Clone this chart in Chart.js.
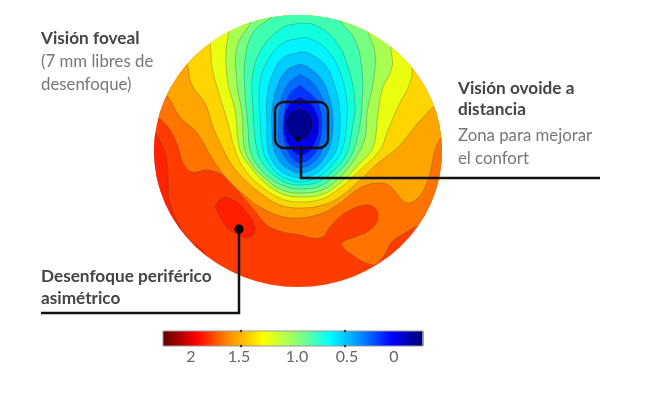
<!DOCTYPE html>
<html>
<head>
<meta charset="utf-8">
<script src="https://cdn.jsdelivr.net/npm/chart.js@4"></script>
<style>
  html, body { margin: 0; padding: 0; background: #fff; }
  canvas { display: block; }
</style>
</head>
<body>
<canvas id="mapa" width="650" height="400"></canvas>
<script>
// contour outlines, outermost first
const redBand = [[150,125],[155,132],[165,153],[168,177],[170,203],[187,237],[205,253],[195,262],[150,220],[145,150]];
const redPatch = [[215,207],[222,198],[233,200],[245,210],[255,228],[250,237],[238,235],[225,225]];
const level2 = [[150,112],[159,118],[170,130],[178,147],[183,163],[192,172],[207,170],[222,175],[237,190],[250,205],[267,225],[283,232],[300,235],[312,238],[323,237],[330,227],[345,213],[365,205],[375,208],[378,218],[370,230],[355,237],[342,243],[348,252],[373,265],[383,257],[392,242],[405,233],[418,226],[430,225],[460,200],[460,0],[150,0]];
const level3 = [[155,85],[168,97],[180,117],[197,133],[213,160],[228,180],[243,194],[260,207],[280,216],[300,218],[323,213],[340,203],[362,187],[382,183],[392,188],[402,200],[410,203],[422,193],[430,173],[435,150],[443,135],[460,120],[460,0],[150,0]];
const level4 = [[175,55],[187,65],[190,80],[195,90],[205,103],[213,127],[222,147],[232,165],[243,178],[260,193],[280,205],[300,208],[323,205],[340,197],[360,180],[378,163],[395,150],[402,143],[418,123],[435,105],[450,90],[460,0],[165,0]];
const level5 = [[205,30],[210,43],[212,67],[220,97],[228,123],[235,150],[245,170],[262,187],[282,199],[300,202],[322,199],[340,188],[358,172],[380,150],[388,130],[398,107],[410,83],[412,67],[408,50],[420,20],[400,0],[200,0]];
const level6 = [[229,32],[226,53],[228,83],[235,110],[240,150],[250,166],[262,180],[280,193],[300,197],[323,194],[340,183],[360,163],[373,147],[378,113],[382,90],[392,67],[391,45],[395,30],[395,0],[225,0]];
const level7 = [[250,24],[237,47],[237,83],[242,113],[245,150],[254,167],[266,179],[282,190],[300,193],[322,190],[338,179],[354,160],[365,138],[367,113],[373,83],[375,53],[368,32],[360,0],[250,0]];
const level8 = [[272,17],[253,33],[245,60],[245,93],[248,127],[250,150],[258,166],[270,178],[284,186],[300,189],[320,186],[336,174],[350,158],[358,135],[362,103],[362,70],[355,40],[340,21],[330,0],[272,0]];
const level9 = [[300,23],[282,28],[263,47],[253,73],[253,110],[257,150],[264,165],[275,176],[287,183],[300,185],[318,182],[333,171],[346,155],[352,130],[355,103],[348,67],[335,40],[315,25]];
const level10 = [[300,38],[283,43],[268,60],[260,83],[260,117],[263,150],[270,165],[279,175],[290,180],[300,182],[316,178],[331,166],[342,150],[347,120],[346,95],[338,67],[325,48],[308,38]];
const level11 = [[300,52],[283,58],[273,73],[267,97],[267,127],[268,150],[275,165],[284,173],[300,178],[315,174],[328,162],[337,148],[340,115],[335,87],[325,65],[308,53]];
const level12 = [[300,64],[287,70],[277,87],[272,110],[272,133],[274,150],[281,163],[290,170],[300,173],[313,169],[324,158],[331,142],[333,120],[330,100],[322,80],[308,67]];
const level13 = [[300,74],[287,85],[280,105],[278,128],[279,145],[286,159],[294,166],[300,168],[311,164],[321,153],[327,130],[326,112],[322,97],[312,82]];
const level14 = [[300,85],[289,95],[284,115],[283,135],[288,152],[295,161],[300,163],[310,159],[318,148],[322,125],[320,108],[315,98]];
const level15 = [[300,97],[289,105],[284,124],[288,144],[300,155],[312,148],[319,125],[312,105]];
const level16 = [[300,108],[290,113],[286,124],[290,135],[300,140],[309,135],[313,124],[309,113]];

const contours = [redBand, level2, level3, level4, level5, level6, level7, level8, level9, level10, level11, level12, level13, level14, level15, level16, redPatch];
const contourColors = ['#ff2200', '#ff7300', '#ffa500', '#ffd500', '#eaff10', '#a8ff50', '#78ff80', '#3fffb0', '#10ffdc', '#00f4ff', '#00ccff', '#0098ff', '#006cff', '#0034ff', '#0000e8', '#000090', '#ff1e00'];

const lensCentre = [298, 151];
const lensRadius = [144, 136];
const lensColor = '#ff3c00';

const colorbarTickLabels = ['2', '1.5', '1.0', '0.5', '0'];
const colorbarTickX = [191, 239, 297, 347, 394];
const colorbarBox = [[163,331],[423,331],[423,346],[163,346],[163,331]];
const colorbarStops = [0, 0.13, 0.24, 0.385, 0.53, 0.64, 0.77, 0.88, 1];
const colorbarColors = ['#600000', '#ff0000', '#ff8000', '#ffff00', '#80ff80', '#00ffff', '#0080ff', '#0000ff', '#000070'];
const colorbarMarks = [[241,331],[241,346],[345,331],[345,346]];

const leaderOvoid = [[301,148],[301,178],[600,178]];
const leaderPeriph = [[239,229],[239,313],[41,313]];
const dots = [[298,139],[239,229]];
const dotSizes = [2.5, 4.5];
const focusBox = [[275,102],[328,148]];

const boldColor = '#444', lightColor = '#777';
const captions = [
  ['Visión foveal', 41, 38, true],
  ['(7 mm libres de', 41, 62, false],
  ['desenfoque)', 41, 85, false],
  ['Visión ovoide a', 458, 88, true],
  ['distancia', 458, 109, true],
  ['Zona para mejorar', 458, 136, false],
  ['el confort', 458, 159, false],
  ['Desenfoque periférico', 41, 276, true],
  ['asimétrico', 41, 298, true]
];

const toPoints = (list) => list.map((p) => ({ x: p[0], y: p[1] }));

const datasets = [];
contours.forEach((c, i) => {
  datasets.push({
    data: toPoints(c.concat([c[0]])),
    lensFill: contourColors[i],
    borderColor: 'rgba(70,70,70,0.4)',
    borderWidth: 0.8,
    tension: 0.4,
    pointRadius: 0,
    showLine: true,
    clip: false
  });
});
datasets.push({ data: toPoints(colorbarBox), colorbar: true, borderColor: '#999', borderWidth: 1, pointRadius: 0, showLine: true, clip: false });
datasets.push({ data: toPoints(colorbarMarks), pointRadius: 1.2, backgroundColor: '#333', borderWidth: 0, showLine: false, clip: false });
datasets.push({ data: toPoints(leaderOvoid), borderColor: '#111', borderWidth: 2.5, pointRadius: 0, showLine: true, tension: 0, clip: false });
datasets.push({ data: toPoints(leaderPeriph), borderColor: '#111', borderWidth: 2.5, pointRadius: 0, showLine: true, tension: 0, clip: false });
datasets.push({ data: toPoints(dots), pointRadius: dotSizes, backgroundColor: '#000', borderWidth: 0, showLine: false, clip: false });
datasets.forEach((d, i) => { d.order = 100 - i; });

const lensPlugin = {
  id: 'lens',
  beforeDatasetsDraw(chart) {
    const ctx = chart.ctx, xs = chart.scales.x, ys = chart.scales.y;
    ctx.save();
    ctx.beginPath();
    ctx.ellipse(xs.getPixelForValue(lensCentre[0]), ys.getPixelForValue(lensCentre[1]), lensRadius[0], lensRadius[1], 0, 0, Math.PI * 2);
    ctx.fillStyle = lensColor;
    ctx.fill();
    ctx.restore();
  },
  beforeDatasetDraw(chart, args) {
    const ds = chart.data.datasets[args.index];
    const ctx = chart.ctx, xs = chart.scales.x, ys = chart.scales.y;
    if (ds.lensFill) {
      ctx.save();
      ctx.beginPath();
      ctx.ellipse(xs.getPixelForValue(lensCentre[0]), ys.getPixelForValue(lensCentre[1]), lensRadius[0], lensRadius[1], 0, 0, Math.PI * 2);
      ctx.clip();
      ctx.beginPath();
      args.meta.dataset.path(ctx);
      ctx.closePath();
      ctx.fillStyle = ds.lensFill;
      ctx.fill();
    }
    if (ds.colorbar) {
      const x0 = xs.getPixelForValue(colorbarBox[0][0]), x1 = xs.getPixelForValue(colorbarBox[1][0]);
      const y0 = ys.getPixelForValue(colorbarBox[0][1]), y1 = ys.getPixelForValue(colorbarBox[2][1]);
      const grad = ctx.createLinearGradient(x0, 0, x1, 0);
      colorbarStops.forEach((s, i) => grad.addColorStop(s, colorbarColors[i]));
      ctx.fillStyle = grad;
      ctx.fillRect(x0, y0, x1 - x0, y1 - y0);
    }
  },
  afterDatasetDraw(chart, args) {
    if (chart.data.datasets[args.index].lensFill) chart.ctx.restore();
  },
  afterDatasetsDraw(chart) {
    const ctx = chart.ctx, xs = chart.scales.x, ys = chart.scales.y;
    // box round the ovoid zone
    const bx = xs.getPixelForValue(focusBox[0][0]), by = ys.getPixelForValue(focusBox[0][1]);
    const bw = xs.getPixelForValue(focusBox[1][0]) - bx, bh = ys.getPixelForValue(focusBox[1][1]) - by;
    ctx.save();
    ctx.beginPath();
    ctx.roundRect(bx, by, bw, bh, 9);
    ctx.strokeStyle = '#111';
    ctx.lineWidth = 2.5;
    ctx.stroke();
    // colorbar labels
    ctx.fillStyle = '#666';
    ctx.font = '16px Lato';
    ctx.textAlign = 'center';
    ctx.textBaseline = 'middle';
    colorbarTickLabels.forEach((t, i) => ctx.fillText(t, xs.getPixelForValue(colorbarTickX[i]), ys.getPixelForValue(357)));
    // captions
    ctx.textAlign = 'left';
    captions.forEach((c) => {
      ctx.font = c[3] ? '700 17.2px Lato' : '400 16.8px Lato';
      ctx.fillStyle = c[3] ? boldColor : lightColor;
      ctx.fillText(c[0], xs.getPixelForValue(c[1]), ys.getPixelForValue(c[2]));
    });
    ctx.restore();
  }
};

new Chart(document.getElementById('mapa'), {
  type: 'scatter',
  data: { datasets: datasets },
  options: {
    responsive: false,
    animation: false,
    layout: { padding: 0, autoPadding: false },
    plugins: { legend: { display: false }, tooltip: { enabled: false } },
    scales: {
      x: { type: 'linear', min: 0, max: 650, display: false },
      y: { type: 'linear', min: 0, max: 400, reverse: true, display: false }
    }
  },
  plugins: [lensPlugin]
});
</script>
</body>
</html>
